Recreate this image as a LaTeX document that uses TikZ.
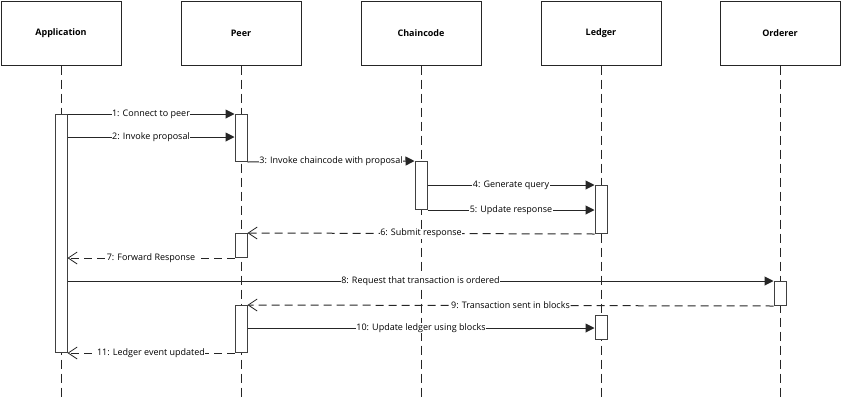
\documentclass[tikz,border=0pt]{standalone}
\usepackage{fontspec}
\setmainfont{Open Sans}
\usetikzlibrary{arrows.meta}
\begin{document}
\begin{tikzpicture}[x=1pt,y=-1pt,
  every node/.style={font=\fontsize{9}{10}\selectfont, text=black},
  head/.style={draw=black!85, line width=1pt, minimum width=120pt, minimum height=64pt, inner sep=0pt, font=\fontsize{9}{10}\selectfont\bfseries},
  life/.style={draw=black!85, line width=1pt, dash pattern=on 9pt off 5pt},
  act/.style={draw=black!75, fill=white, line width=1pt, minimum width=12pt, inner sep=0pt},
  msg/.style={draw=black!85, line width=1pt, -{Triangle[length=9pt,width=9pt]}},
  ret/.style={draw=black!85, line width=1pt, dash pattern=on 8pt off 5pt, -{Straight Barb[length=9pt,width=12pt,line width=0.8pt]}},
  lbl/.style={fill=white, inner sep=0.5pt}]
\useasboundingbox (0,0) rectangle (841,400);
% headers
\node[head] (hA) at (61,33) {Application};
\node[head] (hP) at (241,33) {Peer};
\node[head] (hC) at (421,33) {Chaincode};
\node[head] (hL) at (601,33) {Ledger};
\node[head] (hO) at (780,33) {Orderer};
% lifeline ends
\foreach \n/\x in {A/61,P/241,C/421,L/601,O/780}{
  \coordinate (e\n) at (\x,398);
  \draw[life] (h\n.south) -- (e\n);
}
% activations
\node[act, minimum height=238pt, anchor=north] (aA) at (61,114) {};
\node[act, minimum height=47pt, anchor=north] (aP1) at (241,114) {};
\node[act, minimum height=48pt, anchor=north] (aC) at (421,161) {};
\node[act, minimum height=48pt, anchor=north] (aL1) at (601,185) {};
\node[act, minimum height=24pt, anchor=north] (aP2) at (241,233) {};
\node[act, minimum height=24pt, anchor=north] (aO) at (780,281) {};
\node[act, minimum height=47pt, anchor=north] (aP3) at (241,305) {};
\node[act, minimum height=24pt, anchor=north] (aL2) at (601,315) {};
% messages
\draw[msg] (aA.north east) -- node[lbl]{1: Connect to peer} (aP1.north west);
\coordinate (m2a) at (aA.east |- 0,137);
\coordinate (m2b) at (aP1.west |- 0,137);
\draw[msg] (m2a) -- node[lbl]{2: Invoke proposal} (m2b);
\draw[msg] (aP1.south east) -- node[lbl]{3: Invoke chaincode with proposal} (aC.north west);
\draw[msg] (aC.east |- aL1.north) -- node[lbl]{4: Generate query} (aL1.north west);
\draw[msg] (aC.south east) -- node[lbl]{5: Update response} (aL1.west |- aC.south);
\draw[ret] (aL1.south west) -- node[lbl]{6: Submit response} (aP2.north east);
\draw[ret] (aP2.south west) -- node[lbl]{7: Forward Response} (aA.east |- aP2.south);
\draw[msg] (aA.east |- aO.north) -- node[lbl]{8: Request that transaction is ordered} (aO.north west);
\draw[ret] (aO.south west) -- node[lbl, pos=0.5]{9: Transaction sent in blocks} (aP3.north east);
\coordinate (m10a) at (aP3.east |- 0,328);
\coordinate (m10b) at (aL2.west |- 0,328);
\draw[msg] (m10a) -- node[lbl]{10: Update ledger using blocks} (m10b);
\draw[ret] (aP3.south west) -- node[lbl]{11: Ledger event updated} (aA.south east);
\end{tikzpicture}
\end{document}
